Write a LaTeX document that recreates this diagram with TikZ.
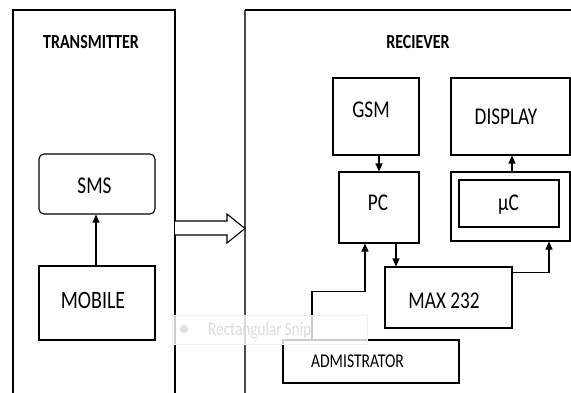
\documentclass[tikz,border=0pt]{standalone}
\usepackage{fontspec}
\setmainfont{Carlito}
\usetikzlibrary{arrows.meta}
\newcommand{\lbl}[2][24]{\scalebox{0.8}[1]{\fontsize{#1}{#1}\selectfont #2}}
\begin{document}
\begin{tikzpicture}[x=1pt,y=-1pt,
  frame/.style={line width=1.1pt},
  box/.style={draw,line width=1.1pt,inner sep=0},
  lab/.style={inner sep=0,anchor=base},
  arr/.style={line width=1.1pt,-{Triangle[length=8pt,width=7pt]}}]
\useasboundingbox[fill=white] (0,0) rectangle (571,392);
% containers
\draw[frame] (13,400) -- (13,10) -- (175,10) -- (175,400);
\draw[frame,black!70] (245,400) -- (245,10);
\draw[frame] (245,10) -- (580,10);
\node[lab] (ttx) at (91,48) {\lbl[20]{\bfseries TRANSMITTER}};
\node[lab] (trx) at (418,48) {\lbl[20]{\bfseries RECIEVER}};
% transmitter boxes
\node[box,rounded corners=5pt,minimum width=116pt,minimum height=60pt] (sms) at (97,184) {};
\node[box,minimum width=116pt,minimum height=74pt] (mobile) at (97,303) {};
\node[lab] (tsms) at (94.5,193) {\lbl{SMS}};
\node[lab] (tmobile) at (93,308) {\lbl[25]{MOBILE}};
\draw[arr] ([xshift=-1pt]mobile.north) -- ([xshift=-1pt]sms.south);
% hollow arrow
\draw[frame,fill=white] (175,221) -- (227,221) -- (227,214) -- (245,228.5) -- (227,243) -- (227,235) -- (175,235);
% receiver boxes
\node[box,minimum width=86pt,minimum height=77pt] (gsm) at (376,116.5) {};
\node[box,minimum width=119pt,minimum height=77pt] (display) at (510.5,116.5) {};
\node[box,minimum width=80pt,minimum height=71pt] (pc) at (379,207.5) {};
\node[box,minimum width=119pt,minimum height=69pt] (ucout) at (510.5,206.5) {};
\node[box,minimum width=100pt,minimum height=47pt] (ucin) at (509,203.5) {};
\node[box,minimum width=127pt,minimum height=61pt] (max) at (448.5,297.5) {};
\node[box,minimum width=176pt,minimum height=43pt] (admin) at (371,361.5) {};
\node[lab] (tgsm) at (371,117) {\lbl{GSM}};
\node[lab] (tdisplay) at (506,124) {\lbl{DISPLAY}};
\node[lab] (tpc) at (378,210) {\lbl{PC}};
\node[lab] (tuc) at (508.5,210) {\lbl{µC}};
\node[lab] (tmax) at (444,308) {\lbl{MAX 232}};
\node[lab] (tadmin) at (357.5,367) {\lbl[19.5]{ADMISTRATOR}};
% connectors
\draw[arr] (gsm.south -| pc.north) -- (pc.north);
\draw[arr] ([xshift=1.5pt]ucout.north) -- ([xshift=1.5pt]display.south);
\draw[arr] ([xshift=17pt]pc.south) -- ([xshift=17pt]pc.south |- max.north);
\draw[arr] ([yshift=-6pt]max.north east) -| ([xshift=38.5pt]ucout.south);
\draw[arr] ([xshift=-59pt]admin.north) -- ++(0,-48) -| ([xshift=-14pt]pc.south);
% faint screenshot overlay
\node[draw=black!6,fill=white,fill opacity=0.8,text opacity=1,inner sep=0,minimum width=195pt,minimum height=29pt] (snip) at (269.5,329.5) {};
\fill[black!12] (184,329) circle (4pt);
\node[lab,anchor=base west,text=black!14] (tsnip) at (208,335) {\lbl[19]{Rectangular Snip}};
\end{tikzpicture}
\end{document}
